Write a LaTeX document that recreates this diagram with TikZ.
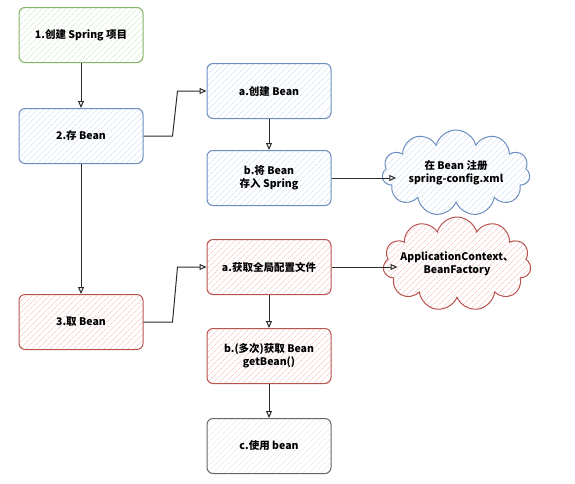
\documentclass[tikz,border=0pt]{standalone}
\usepackage{fontspec}
\setmainfont{Noto Sans CJK SC}
\usepackage{tikz}
\usetikzlibrary{arrows.meta,patterns.meta,shapes.symbols}

\definecolor{grnline}{HTML}{82B366}
\definecolor{grnfill}{HTML}{C9E2C4}
\definecolor{bluline}{HTML}{6C8EBF}
\definecolor{blufill}{HTML}{C4D8F4}
\definecolor{redline}{HTML}{B85450}
\definecolor{redfill}{HTML}{F2B8B5}
\definecolor{gryline}{HTML}{666666}
\definecolor{gryfill}{HTML}{E2E2E2}
\definecolor{arrline}{HTML}{2B2B2B}

\tikzset{
  hatch/.style={pattern={Lines[angle=45,distance=4pt,line width=0.6pt]}, pattern color=#1},
  stepbox/.style={draw, line width=1pt, rounded corners=6, minimum width=124, minimum height=55,
    align=center, font=\fontsize{10.5}{13}\selectfont\bfseries},
  greenbox/.style={stepbox, draw=grnline, hatch=grnfill},
  bluebox/.style={stepbox, draw=bluline, hatch=blufill},
  redbox/.style={stepbox, draw=redline, hatch=redfill},
  greybox/.style={stepbox, draw=gryline, hatch=gryfill},
  note/.style={cloud, cloud puffs=11, cloud ignores aspect, draw, line width=1pt, inner sep=0pt},
  notetext/.style={label={[align=center, font=\fontsize{10.5}{13}\selectfont\bfseries]center:#1}},
  flow/.style={draw=arrline, line width=1pt, -{Triangle[open,length=7pt,width=6pt]}},
}

\begin{document}
\begin{tikzpicture}[x=1pt,y=-1pt]
\useasboundingbox (0,0) rectangle (575,483);
% left column
\node[greenbox] (create) at (81,35) {1.创建 Spring 项目};
\node[bluebox] (store) at (81,136) {2.存 Bean};
\node[redbox] (fetch) at (81,322) {3.取 Bean};
% storing
\node[bluebox] (newbean) at (269,91) {a.创建 Bean};
\node[bluebox] (putbean) at (269,178) {b.将 Bean\\存入 Spring};
\node[note, draw=bluline, hatch=blufill, minimum width=148, minimum height=86,
  notetext={在 Bean 注册\\spring-config.xml}] (xmlcfg) at (456,173) {};
% fetching
\node[redbox] (getctx) at (269,267) {a.获取全局配置文件};
\node[redbox] (getbean) at (269,356) {b.(多次)获取 Bean\\getBean()};
\node[greybox] (usebean) at (269,446) {c.使用 bean};
\node[note, draw=redline, hatch=redfill, minimum width=148, minimum height=94,
  notetext={ApplicationContext、\\BeanFactory}] (ctxcloud) at (457,264) {};

\draw[flow] (create) -- (store);
\draw[flow] (store) -- (fetch);
\draw[flow] (store.east) -- ++(29,0) -- ([xshift=-29]newbean.west) -- (newbean.west);
\draw[flow] (newbean) -- (putbean);
\draw[flow] (putbean.east) -- ([xshift=14]xmlcfg.west |- putbean.east);
\draw[flow] (fetch.east) -- ++(29,0) -- ([xshift=-29]getctx.west) -- (getctx.west);
\draw[flow] (getctx.east) -- ([xshift=14]ctxcloud.west |- getctx.east);
\draw[flow] (getctx) -- (getbean);
\draw[flow] (getbean) -- (usebean);
\end{tikzpicture}
\end{document}
